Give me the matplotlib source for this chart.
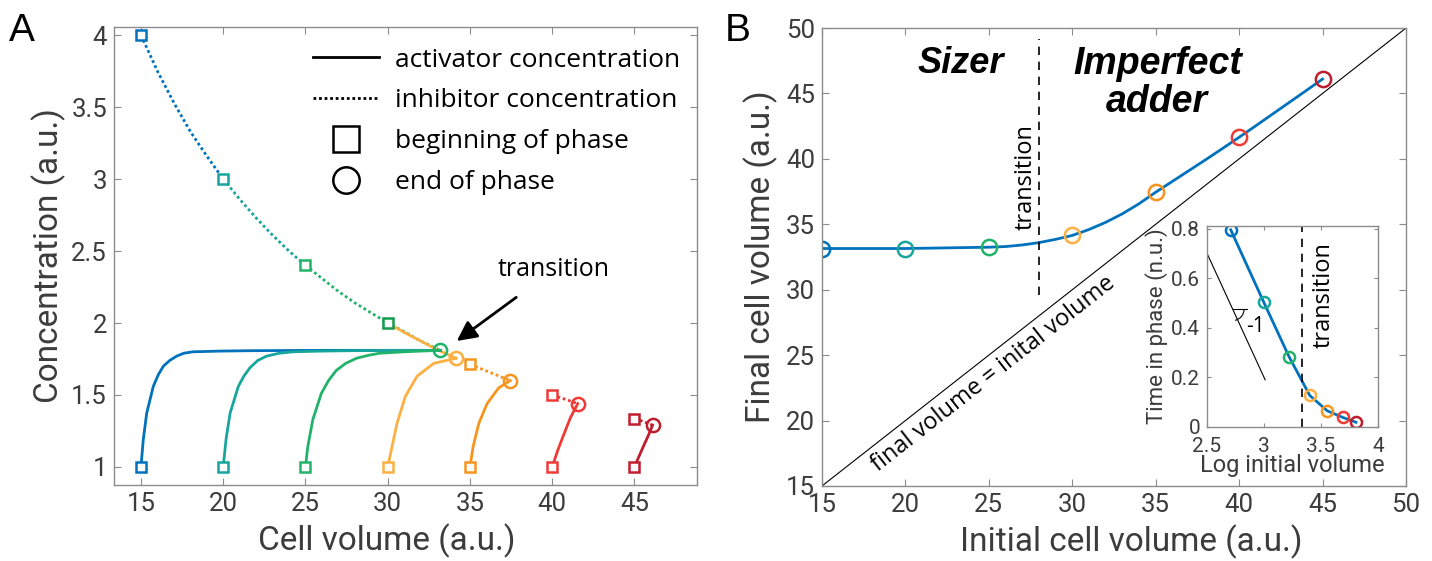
import matplotlib
matplotlib.use("Agg")
import matplotlib.pyplot as plt
from matplotlib.lines import Line2D
from matplotlib.patches import Arc
import numpy as np

plt.rcParams['font.family'] = ['Roboto', 'DejaVu Sans']

# initial volumes of the seven phases and their colours
volumes = [15, 20, 25, 30, 35, 40, 45]
colors = ['#0072BD', '#17A59C', '#22B36B', '#FDB042', '#F7941E', '#EE3B36', '#BE1E2D']

# panel A: activator concentration during each phase
act15_v = [15, 15.14, 15.35, 15.75, 16.05, 16.36, 16.75, 17.17, 17.6, 18.16, 19.8, 22, 26, 30, 33.2]
act15_c = [1.0, 1.19, 1.375, 1.56, 1.64, 1.70, 1.74, 1.77, 1.79, 1.80, 1.805, 1.808, 1.81, 1.81, 1.81]
act20_v = [20, 20.17, 20.42, 20.92, 21.25, 21.63, 22.1, 22.64, 23.4, 24.25, 26, 28, 30, 33.2]
act20_c = [1.0, 1.19, 1.375, 1.56, 1.63, 1.69, 1.74, 1.77, 1.79, 1.80, 1.805, 1.808, 1.81, 1.81]
act25_v = [25, 25.14, 25.45, 25.96, 26.4, 26.87, 27.45, 28.1, 28.8, 29.5, 31, 32, 33.2]
act25_c = [1.0, 1.14, 1.33, 1.51, 1.60, 1.67, 1.72, 1.755, 1.775, 1.79, 1.80, 1.805, 1.81]
act30_v = [30, 30.26, 30.56, 31.07, 31.78, 32.8, 34.15]
act30_c = [1.0, 1.14, 1.30, 1.49, 1.63, 1.72, 1.755]
act35_v = [35, 35.19, 35.53, 36.04, 36.75, 37.45]
act35_c = [1.0, 1.14, 1.30, 1.44, 1.55, 1.60]
act40_v = [40, 40.35, 40.72, 41.1, 41.55]
act40_c = [1.0, 1.12, 1.23, 1.34, 1.44]
act45_v = [45, 45.3, 45.57, 45.85, 46.1]
act45_c = [1.0, 1.08, 1.15, 1.22, 1.29]

# panel A: inhibitor concentration
inh_v = [15, 16, 17, 18, 19, 20, 21, 22, 23, 24, 25, 26, 27, 28, 29, 30, 31, 32, 33.2]
inh_c = [4.0, 3.75, 3.53, 3.33, 3.16, 3.0, 2.86, 2.73, 2.61, 2.5, 2.4, 2.31, 2.22, 2.14, 2.07, 2.0, 1.94, 1.875, 1.81]
inh30_v = [30, 31, 32, 33, 34.15]
inh30_c = [2.0, 1.935, 1.875, 1.815, 1.755]
inh35_v = [35, 36, 37.45]
inh35_c = [1.714, 1.667, 1.60]
inh40_v = [40, 40.8, 41.55]
inh40_c = [1.5, 1.47, 1.44]
inh45_v = [45, 45.5, 46.1]
inh45_c = [1.333, 1.318, 1.29]

# panel B
final_vol = [33.15, 33.15, 33.25, 34.15, 37.45, 41.65, 46.1]
curve_x = [15, 20, 25, 26, 27, 28, 29, 30, 31, 32, 33, 34, 35, 36, 37, 38, 39, 40, 41, 42, 43, 44, 45]
curve_y = [33.15, 33.15, 33.25, 33.3, 33.42, 33.6, 33.85, 34.15, 34.6, 35.15, 35.8, 36.57, 37.45,
           38.28, 39.11, 39.94, 40.79, 41.65, 42.53, 43.42, 44.31, 45.2, 46.1]
transition_vol = 28

# inset
phase_time = [0.795, 0.505, 0.284, 0.127, 0.065, 0.039, 0.019]

tick_col = '#3c3c3c'
spine_col = '#8c8c8c'
txt_font = ['Open Sans', 'DejaVu Sans']
bold_font = ['Liberation Sans', 'DejaVu Sans']


def style(ax, size):
    for s in ax.spines.values():
        s.set_color(spine_col)
        s.set_linewidth(1.0)
    ax.tick_params(direction='in', top=True, right=True, length=5, color=spine_col,
                   labelsize=size, labelcolor=tick_col, pad=5)


fig = plt.figure(figsize=(14.32, 5.61), dpi=100)
axA = fig.add_axes([0.0796, 0.1355, 0.4071, 0.8164])
axB = fig.add_axes([0.574, 0.1337, 0.4078, 0.8163])
axI = fig.add_axes([0.8429, 0.2389, 0.1194, 0.3581])

lw = 2.0
ms_sq, ms_ci, mew = 7.5, 9.5, 1.8

# ---- panel A
act_v = [act15_v, act20_v, act25_v, act30_v, act35_v, act40_v, act45_v]
act_c = [act15_c, act20_c, act25_c, act30_c, act35_c, act40_c, act45_c]
dot = (0, (1, 1))

axA.plot(inh_v[:6], inh_c[:6], color=colors[0], lw=lw, ls=dot)
axA.plot(inh_v[5:11], inh_c[5:11], color=colors[1], lw=lw, ls=dot)
axA.plot(inh_v[10:], inh_c[10:], color=colors[2], lw=lw, ls=dot)
axA.plot(inh30_v, inh30_c, color=colors[3], lw=lw)
axA.plot(inh35_v, inh35_c, color=colors[4], lw=lw, ls=dot)
axA.plot(inh40_v, inh40_c, color=colors[5], lw=lw, ls=dot)
axA.plot(inh45_v, inh45_c, color=colors[6], lw=lw, ls=dot)

for v, c, col in zip(act_v, act_c, colors):
    axA.plot(v, c, color=col, lw=lw)

# beginning-of-phase squares
inh_start = [inh_c[0], inh_c[5], inh_c[10], inh30_c[0], inh35_c[0], inh40_c[0], inh45_c[0]]
sq_cols = colors[:3] + ['#139A4A'] + colors[4:]
for v0, c0, i0, col, scol in zip(volumes, [c[0] for c in act_c], inh_start, colors, sq_cols):
    axA.plot(v0, c0, 's', ms=ms_sq, mfc='white', mec=col, mew=mew)
    axA.plot(v0, i0, 's', ms=ms_sq, mfc='white', mec=scol, mew=mew)

# end-of-phase circles
for v, c, col in zip(act_v, act_c, colors):
    if v is act15_v or v is act20_v:
        continue
    axA.plot(v[-1], c[-1], 'o', ms=ms_ci, mfc='none', mec=col, mew=mew)

axA.annotate('transition', xy=(34.2, 1.875), xytext=(40.1, 2.37), ha='center', va='center',
             fontsize=18, family=txt_font,
             arrowprops=dict(arrowstyle='-|>', color='k', lw=2, mutation_scale=30,
                             shrinkA=15, shrinkB=0))

axA.set_xlim(13.36, 48.8)
axA.set_ylim(0.875, 4.056)
axA.set_xticks(range(15, 50, 5))
axA.set_yticks([1, 1.5, 2, 2.5, 3, 3.5, 4])
axA.set_yticklabels(['1', '1.5', '2', '2.5', '3', '3.5', '4'])
style(axA, 18.5)
axA.set_xlabel('Cell volume (a.u.)', fontsize=24, color=tick_col, labelpad=4)
axA.set_ylabel('Concentration (a.u.)', fontsize=24, color=tick_col, labelpad=4)
axA.xaxis.set_label_coords(0.468, -0.085)

handles = [Line2D([], [], color='k', lw=2),
           Line2D([], [], color='k', lw=2, ls=(0, (1, 1))),
           Line2D([], [], color='k', ls='none', marker='s', ms=19, mfc='white', mew=1.8),
           Line2D([], [], color='k', ls='none', marker='o', ms=19, mfc='white', mew=1.8)]
labels = ['activator concentration', 'inhibitor concentration', 'beginning of phase', 'end of phase']
axA.legend(handles, labels, loc='upper left', bbox_to_anchor=(0.341, 0.955), frameon=False,
           borderpad=0, borderaxespad=0, handlelength=2.5, handletextpad=0.62, labelspacing=0.6,
           prop={'family': txt_font, 'size': 19})

# ---- panel B
axB.plot([15, 50], [15, 50], color='k', lw=0.8)
axB.plot(curve_x, curve_y, color=colors[0], lw=lw)
for x0, y0, col in zip(volumes, final_vol, colors):
    axB.plot(x0, y0, 'o', ms=11, mfc='none', mec=col, mew=mew)
axB.plot([transition_vol, transition_vol], [29.6, 49.2], color='k', lw=1.2, ls=(0, (5, 4)))
axB.text(27.2, 38.6, 'transition', rotation=90, ha='center', va='center', fontsize=17, family=txt_font)
axB.text(23.3, 47.3, 'Sizer', ha='center', va='center', fontsize=26, weight='bold', style='italic',
         family=bold_font)
axB.text(35.1, 45.8, 'Imperfect\nadder', ha='center', va='center', fontsize=27, weight='bold',
         style='italic', linespacing=1.1, family=bold_font)
axB.text(25.3, 23.6, 'final volume = inital volume', rotation=38.1, rotation_mode='anchor',
         ha='center', va='center', fontsize=17, family=txt_font)
axB.set_xlim(15, 50)
axB.set_ylim(15, 50)
axB.set_xticks(range(15, 55, 5))
axB.set_yticks(range(15, 55, 5))
style(axB, 18.5)
axB.set_xlabel('Initial cell volume (a.u.)', fontsize=24, color=tick_col, labelpad=4)
axB.set_ylabel('Final cell volume (a.u.)', fontsize=24, color=tick_col, labelpad=6)
axB.xaxis.set_label_coords(0.53, -0.085)

# ---- inset
log_vol = np.log(volumes)
axI.plot(log_vol, phase_time, color=colors[0], lw=lw)
for x0, y0, col in zip(log_vol, phase_time, colors):
    axI.plot(x0, y0, 'o', ms=8, mfc='none', mec=col, mew=mew)
axI.axvline(np.log(transition_vol), color='k', lw=1.2, ls=(0, (5, 4)))
axI.plot([2.5, 3.01], [0.70, 0.19], color='k', lw=0.8)
axI.plot([2.725, 2.85], [0.475, 0.475], color='k', lw=0.8)
axI.add_patch(Arc((2.725, 0.475), 0.2, 0.092, theta1=-65, theta2=0, color='k', lw=0.8))
axI.text(2.84, 0.405, '-1', fontsize=15, family=txt_font, ha='left', va='center')
axI.text(3.52, 0.53, 'transition', rotation=90, ha='center', va='center', fontsize=17, family=txt_font)
axI.set_xlim(2.5, 4)
axI.set_ylim(0, 0.81)
axI.set_xticks([2.5, 3, 3.5, 4])
axI.set_xticklabels(['2.5', '3', '3.5', '4'])
axI.set_yticks([0, 0.2, 0.4, 0.6, 0.8])
axI.set_yticklabels(['0', '0.2', '0.4', '0.6', '0.8'])
style(axI, 15)
axI.tick_params(length=3)
axI.tick_params(axis='x', pad=7)
axI.tick_params(axis='y', pad=5)
axI.set_xlabel('Log initial volume', fontsize=17, color=tick_col, labelpad=-1)
axI.set_ylabel('Time in phase (n.u.)', fontsize=16, color=tick_col, labelpad=2)

fig.text(0.0154, 0.945, 'A', fontsize=28, ha='center', va='center', family=bold_font)
fig.text(0.5154, 0.945, 'B', fontsize=28, ha='center', va='center', family=bold_font)

fig.savefig('out.png', dpi=100)
